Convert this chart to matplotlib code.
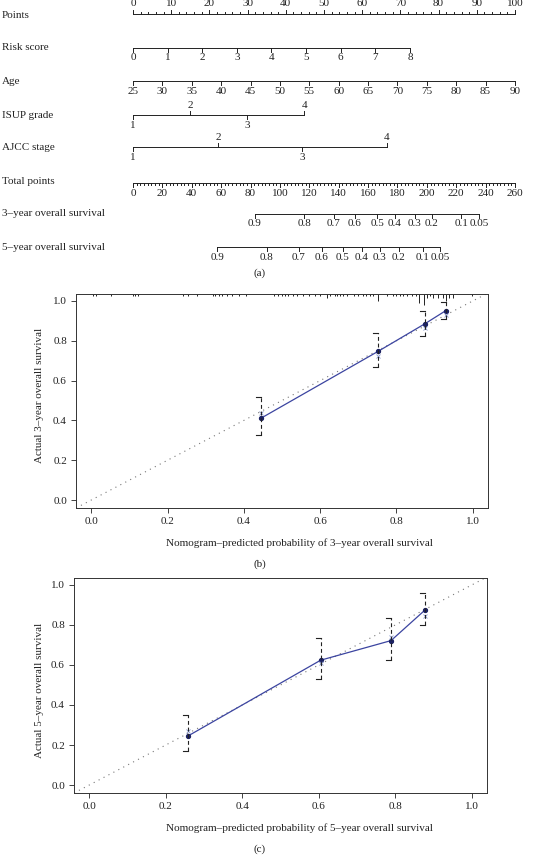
import numpy as np
import matplotlib
matplotlib.use('Agg')
import matplotlib.pyplot as plt

plt.rcParams['font.family'] = ['Liberation Serif', 'DejaVu Serif']
FS = 8
W, H = 534, 855

# ---------------- nomogram data (value -> points) ----------------
points_vals = np.arange(0, 101, 10)
risk_vals = np.arange(0, 9)
risk_pts_max = 72.5
age_vals = np.arange(25, 91, 5)
isup_vals = [1, 2, 3, 4]
isup_pts = [0, 14.9, 29.8, 44.8]
ajcc_vals = [1, 2, 3, 4]
ajcc_pts = [0, 22.3, 44.2, 66.5]
total_vals = np.arange(0, 261, 20)
surv_labels = ['0.9', '0.8', '0.7', '0.6', '0.5', '0.4', '0.3', '0.2', '0.1', '0.05']
surv3_total = [83.0, 116.4, 136.8, 151.1, 166.1, 178.3, 191.9, 203.5, 223.3, 235.5]
surv5_total = [57.2, 91.2, 113.0, 128.6, 142.9, 155.9, 168.1, 181.0, 197.4, 208.9]

# ---------------- calibration data ----------------
pred3 = [0.444, 0.752, 0.875, 0.929]
obs3 = [0.410, 0.747, 0.886, 0.951]
lo3 = [0.327, 0.667, 0.826, 0.910]
hi3 = [0.516, 0.838, 0.951, 0.993]
bc3 = [0.439, 0.725, 0.862, 0.930]

pred5 = [0.259, 0.605, 0.789, 0.878]
obs5 = [0.246, 0.624, 0.722, 0.875]
lo5 = [0.171, 0.530, 0.627, 0.798]
hi5 = [0.351, 0.733, 0.833, 0.962]
bc5 = [0.272, 0.610, 0.740, 0.845]

rug_x = [0.004, 0.012, 0.051, 0.110, 0.115, 0.123, 0.240, 0.254, 0.276, 0.320,
         0.324, 0.336, 0.344, 0.355, 0.370, 0.388, 0.406, 0.480, 0.490, 0.499,
         0.508, 0.517, 0.528, 0.540, 0.556, 0.570, 0.587, 0.600, 0.617, 0.625,
         0.639, 0.645, 0.652, 0.661, 0.671, 0.690, 0.700, 0.712, 0.720, 0.731,
         0.739, 0.752, 0.775, 0.790, 0.800, 0.809, 0.818, 0.828, 0.840, 0.851,
         0.860, 0.873, 0.881, 0.888, 0.897, 0.910, 0.921, 0.929, 0.939, 0.949,
         0.998]
rug_n = [1, 1, 1, 1, 1, 1, 1, 1, 1, 1,
         1, 1, 1, 1, 1, 1, 1, 1, 1, 1,
         1, 1, 1, 1, 1, 1, 1, 1, 2, 1,
         1, 1, 1, 1, 1, 1, 1, 1, 1, 1,
         1, 3, 1, 1, 1, 1, 1, 1, 1, 1,
         4, 5, 2, 1, 2, 2, 2, 3, 2, 2,
         1]

fig = plt.figure(figsize=(W / 100, H / 100), dpi=100)

# ---------------- panel (a): nomogram ----------------
PX = 3.82  # pixels per point
x0 = 133
axa = fig.add_axes([0, 1 - 280 / H, 1, 280 / H])
axa.set_xlim(-x0 / PX, (W - x0) / PX)
axa.set_ylim(280, 0)
axa.axis('off')

lk = dict(color='#222222', lw=0.7)
tk = dict(fontsize=FS, ha='center', color='#222222')


def scale(y, pts, labels, sides, minor=None):
    axa.plot([min(pts), max(pts)], [y, y], **lk)
    if minor is not None:
        s = -1 if sides[0] == 'up' else 1
        for m in minor:
            axa.plot([m, m], [y, y + s * 2.2], **lk)
    for p, lab, sd in zip(pts, labels, sides):
        if sd == 'up':
            axa.plot([p, p], [y, y - 4], **lk)
            axa.text(p, y - 5.5, lab, va='bottom', **tk)
        else:
            axa.plot([p, p], [y, y + 4], **lk)
            axa.text(p, y + 5.5, lab, va='top', **tk)


def row_label(y, s):
    axa.text(-x0 / PX + 2 / PX, y, s, fontsize=FS, ha='left', va='center', color='#222222')


row_label(15, 'Points')
scale(14, points_vals, [str(v) for v in points_vals], ['up'] * len(points_vals),
      minor=np.arange(0, 101, 2))

row_label(48, 'Risk score')
scale(48, risk_vals * risk_pts_max / 8, [str(v) for v in risk_vals], ['down'] * len(risk_vals))

row_label(81, 'Age')
scale(81, (age_vals - 25) * 100 / 65, [str(v) for v in age_vals], ['down'] * len(age_vals))

row_label(115, 'ISUP grade')
scale(115, isup_pts, [str(v) for v in isup_vals], ['down', 'up', 'down', 'up'])

row_label(148, 'AJCC stage')
scale(147, ajcc_pts, [str(v) for v in ajcc_vals], ['down', 'up', 'down', 'up'])

row_label(182, 'Total points')
scale(183, total_vals * 100 / 260, [str(v) for v in total_vals], ['down'] * len(total_vals),
      minor=np.arange(0, 261, 2.5) * 100 / 260)

row_label(214, '3\u2013year overall survival')
scale(214, np.array(surv3_total) * 100 / 260, surv_labels, ['down'] * len(surv_labels))

row_label(247, '5\u2013year overall survival')
scale(247, np.array(surv5_total) * 100 / 260, surv_labels, ['down'] * len(surv_labels))

fig.text(260 / W, 1 - 273 / H, '(a)', fontsize=FS, ha='center', va='center', color='#222222')


# ---------------- calibration panels ----------------
def calib(box, pred, obs, lo, hi, bc, ylab, xlab, tag, ylab_y, xlab_y, tag_y, rug=False):
    l, t, r, b = box
    ax = fig.add_axes([l / W, 1 - b / H, (r - l) / W, (b - t) / H])
    ax.set_xlim(-0.04, 1.04)
    ax.set_ylim(-0.04, 1.035)
    ax.plot([-0.04, 1.04], [-0.04, 1.04], ls=(0, (1, 4)), color='#777777', lw=0.8)
    if rug:
        ax.vlines(rug_x, 1.035 - 0.011 * np.array(rug_n), 1.035, color='#222222', lw=0.7)
    ax.plot(pred, obs, color='#3b44a0', lw=0.9)
    ax.plot(pred, obs, 'o', color='#1c2262', ms=2.8)
    ax.plot(pred, bc, 'x', color='#8a9ad0', ms=2.5, mew=0.6)
    cap = 0.013
    ax.vlines(pred, lo, hi, color='#222222', lw=0.8, linestyles=(0, (3.5, 2.5)))
    for p, a, c in zip(pred, lo, hi):
        ax.plot([p - cap, p], [a, a], color='#222222', lw=0.8)
        ax.plot([p - cap, p], [c, c], color='#222222', lw=0.8)
    ticks = np.arange(0, 1.01, 0.2)
    ax.set_xticks(ticks)
    ax.set_yticks(ticks)
    ax.set_xticklabels(['%.1f' % v for v in ticks])
    ax.set_yticklabels(['%.1f' % v for v in ticks])
    ax.tick_params(labelsize=FS, length=3.5, width=0.6, colors='#222222', pad=3)
    for s in ax.spines.values():
        s.set_linewidth(0.7)
        s.set_color('#333333')
    fig.text(40 / W, 1 - ylab_y / H, ylab, rotation=90, fontsize=FS, ha='center', va='center',
             color='#222222')
    fig.text(299 / W, 1 - xlab_y / H, xlab, fontsize=FS, ha='center', va='center', color='#222222')
    fig.text(260 / W, 1 - tag_y / H, tag, fontsize=FS, ha='center', va='center', color='#222222')
    return ax


calib((76, 294, 488, 508), pred3, obs3, lo3, hi3, bc3,
      'Actual 3\u2013year overall survival',
      'Nomogram\u2013predicted probability of 3\u2013year overall survival', '(b)',
      395, 543, 564, rug=True)
calib((74, 578, 487, 793), pred5, obs5, lo5, hi5, bc5,
      'Actual 5\u2013year overall survival',
      'Nomogram\u2013predicted probability of 5\u2013year overall survival', '(c)',
      690, 828, 849)

fig.savefig('out.png', dpi=100)
